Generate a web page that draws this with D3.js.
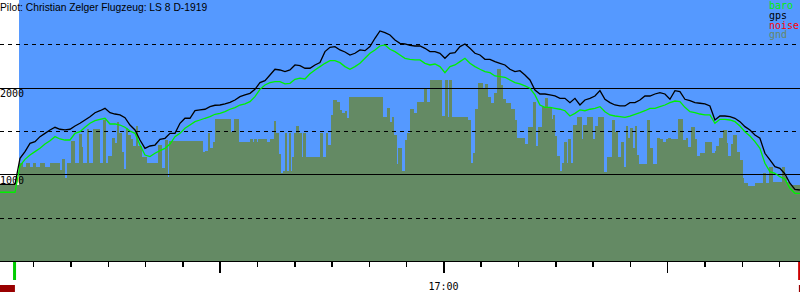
<!DOCTYPE html>
<html><head><meta charset="utf-8">
<script src="https://cdn.jsdelivr.net/npm/d3@7"></script>
<style>body{margin:0;background:#fff}svg{display:block}</style>
</head><body>
<svg id="c" width="800" height="300"></svg>
<script>
// ---------- data ----------
const title = "Pilot: Christian Zelger Flugzeug: LS 8 D-1919";
const legendNames = ["baro", "gps", "noise", "gnd"];
const legendColors = ["#00f000", "#000000", "#ff0000", "#668866"];
const gridSolid = [1000, 2000];
const gridDashed = [500, 1500, 2500];
const yLabelValues = [1000, 2000];
// time in minutes after 15:00
const timeDomain = [1.1, 215.6];
const minorTicks = [10,20,30,40,50,70,80,90,100,110,130,140,150,160,170,190,200,210];
const hourTicks = [60, 120, 180];
const labelTicks = [120];
const labelTexts = ["17:00"];
const skyStart = 6.2;
const takeoff = 5.0;
const landing = 215.5;
const noiseStart = [1.1, 215.3];
const noiseEnd = [5.1, 215.6];
// evenly sampled log (gps / baro altitude, m)
const logStart = 1.1;
const logStep = 1.3405;
const gps = [883,883,883,883,1185,1262,1358,1377,1435,1473,1512,1543,1520,1512,1520,1558,1589,1627,1665,1711,
 1734,1762,1711,1696,1685,1654,1569,1512,1396,1300,1327,1338,1404,1416,1473,1473,1589,1647,1647,1734,
 1743,1751,1781,1797,1800,1812,1831,1858,1896,1916,1935,1981,2058,2081,2146,2212,2204,2185,2204,2262,
 2254,2224,2224,2262,2289,2416,2466,2474,2435,2412,2377,2397,2435,2427,2474,2570,2654,2635,2608,2550,
 2512,2504,2489,2481,2481,2454,2416,2416,2397,2339,2397,2404,2474,2504,2454,2397,2377,2327,2327,2300,
 2281,2262,2212,2185,2196,2146,2089,1973,1927,1927,1916,1904,1877,1877,1827,1877,1800,1858,1877,1904,
 1966,1866,1827,1800,1789,1789,1827,1827,1858,1904,1904,1927,1943,1927,1866,1966,1954,1866,1850,1827,
 1820,1812,1789,1627,1673,1673,1665,1647,1608,1550,1512,1454,1416,1243,1166,1088,1070,1004,897,827,819];
const baro = [793,793,793,793,1100,1173,1223,1262,1300,1350,1388,1435,1408,1396,1396,1473,1492,1543,1589,1619,
 1635,1647,1581,1581,1569,1543,1500,1473,1338,1223,1204,1243,1273,1300,1350,1435,1473,1531,1569,1608,
 1627,1647,1665,1693,1704,1723,1751,1770,1800,1812,1839,1896,1981,2031,2058,2069,2069,2043,2050,2097,
 2110,2100,2160,2204,2243,2281,2312,2312,2289,2243,2212,2243,2281,2339,2397,2435,2481,2493,2443,2416,
 2377,2339,2327,2320,2320,2281,2262,2273,2243,2173,2243,2262,2300,2339,2281,2243,2212,2185,2173,2135,
 2127,2120,2089,2058,2043,2020,1993,1916,1800,1773,1773,1762,1751,1734,1673,1704,1743,1734,1751,1762,
 1781,1723,1685,1673,1665,1658,1673,1693,1711,1734,1762,1762,1781,1800,1827,1846,1839,1773,1723,1711,
 1696,1685,1685,1589,1635,1635,1627,1608,1558,1492,1442,1377,1300,1127,1031,1012,973,943,839,781,781];
// ground elevation under the track: [start minute, altitude m]
const gndTime = [1.1,6.2,7.3,8.1,9.1,10.0,10.8,11.8,13.2,14.5,17.2,17.6,18.5,19.0,20.1,21.2,22.3,23.0,23.4,24.3,
 25.0,26.1,27.9,28.8,29.5,30.1,31.0,31.9,32.5,33.1,33.7,34.3,34.9,35.5,36.1,36.8,37.6,38.2,39.1,40.0,
 40.4,43.5,44.5,45.3,46.2,46.5,55.6,56.1,56.9,57.4,58.1,58.7,63.0,63.8,65.2,68.1,68.9,69.3,69.9,70.4,
 72.8,73.5,74.6,75.1,75.9,76.4,77.1,77.5,78.1,78.6,79.0,79.5,79.9,80.5,81.3,82.0,82.4,83.1,86.9,87.6,
 88.5,89.1,89.8,90.3,91.5,92.3,92.7,93.6,94.2,94.7,103.9,104.9,105.7,106.3,106.8,107.5,107.9,108.8,109.7,110.1,
 111.0,112.1,112.8,114.8,115.5,116.4,119.5,120.4,121.1,121.6,122.2,126.7,127.3,127.8,128.4,129.3,130.7,131.1,132.0,132.7,
 133.5,134.4,135.3,136.0,136.8,138.1,139.2,139.8,141.9,142.7,143.9,144.8,145.4,146.3,147.2,148.1,149.0,149.4,149.9,150.5,
 151.2,151.7,152.3,153.0,153.5,154.1,154.8,155.7,157.1,157.5,158.4,160.0,160.6,161.5,163.0,163.9,165.1,166.0,166.9,167.5,
 168.4,168.9,169.5,170.0,170.7,171.3,171.8,172.5,174.5,175.4,176.1,177.3,178.0,178.9,179.8,180.3,180.9,183.0,184.3,185.0,
 185.6,186.3,187.4,188.0,188.8,190.1,191.9,192.8,193.2,193.9,194.9,195.9,196.4,197.1,197.7,198.6,199.5,200.2,200.6,201.7,
 203.5,205.7,206.4,207.4,208.3,210.7,211.6,212.0,212.9,215.6];
const gndAlt = [880,1135,1088,1135,1088,1135,1088,1135,1088,1127,1050,1174,958,1127,1388,1127,1466,1319,1127,1520,
 1127,1520,1127,1627,1127,1212,1416,1365,1607,1474,1261,1058,1531,1454,1404,1327,1558,1327,1204,1196,
 1127,1339,1070,1396,973,1388,1261,1273,1474,1300,1377,1639,1492,1639,1373,1408,1373,1408,1373,1408,
 1373,1408,1616,1474,1235,1019,1039,1474,1042,1474,1042,1204,1474,1558,1474,1204,1474,1204,1474,1204,
 1474,1339,1685,1858,1838,1743,1711,1734,1647,1889,1665,1762,1607,1665,1454,1119,1300,1042,1396,1481,
 1751,1711,1838,1981,1838,2089,1673,2089,1660,2089,1660,1627,1134,1250,1751,2058,1981,2043,1889,1820,
 1942,2212,2031,1866,1827,1751,1627,1416,1350,1550,1838,1327,1550,1774,1877,1774,1635,1685,1443,1212,
 1042,1134,1377,1134,1404,1134,1569,1665,1404,1569,1658,1404,1558,1658,1031,1204,1627,1492,1204,1377,
 1081,1558,1416,1531,1300,1558,1223,1119,1627,1300,1119,1416,1404,1377,1404,1416,1404,1635,1396,1416,
 1312,1543,1404,1212,1243,1377,1243,1273,1327,1416,1512,1365,1212,1350,1454,1261,1166,954,897,869,
 904,1019,904,1088,915,1088,973,915,877,877];

// ---------- drawing ----------
const W = 800, H = 300;
const svg = d3.select("#c");
const x = d3.scaleLinear().domain(timeDomain).range([0, W]);
const y = d3.scaleLinear().domain([0, 3000]).range([261, 1]);
const px = v => Math.round(y(v)) + 0.5;

// sky
svg.append("rect").attr("x", x(skyStart)).attr("y", 0)
  .attr("width", W - x(skyStart)).attr("height", y(0)).attr("fill", "#5599ff");

// ground
const gnd = gndTime.map((t, i) => [t, gndAlt[i]]);
svg.append("path").datum(gnd)
  .attr("d", d3.area().curve(d3.curveStepAfter).x(d => x(d[0])).y0(y(0)).y1(d => y(d[1])))
  .attr("fill", "#648a64").attr("shape-rendering", "crispEdges");

// grid
svg.selectAll(".gs").data(gridSolid).join("line")
  .attr("x1", 0).attr("x2", W).attr("y1", px).attr("y2", px)
  .attr("stroke", "#000").attr("stroke-width", 1).attr("shape-rendering", "crispEdges");
svg.selectAll(".gd").data(gridDashed).join("line")
  .attr("x1", 0).attr("x2", W).attr("y1", px).attr("y2", px)
  .attr("stroke", "#000").attr("stroke-width", 1).attr("stroke-dasharray", "4,4")
  .attr("shape-rendering", "crispEdges");

// y labels
svg.selectAll(".yl").data(yLabelValues).join("text")
  .attr("x", 0).attr("y", d => y(d) + 9.5)
  .attr("font-family", "DejaVu Sans Mono").attr("font-size", 10).attr("fill", "#000")
  .text(d => d);

// series lines
const series = (arr) => arr.map((v, i) => [logStart + i * logStep, v]);
const line = d3.line().x(d => x(d[0])).y(d => y(d[1]));
svg.append("path").datum(series(baro)).attr("d", line)
  .attr("fill", "none").attr("stroke", legendColors[0]).attr("stroke-width", 1.3)
  .attr("stroke-linejoin", "miter");
svg.append("path").datum(series(gps)).attr("d", line)
  .attr("fill", "none").attr("stroke", legendColors[1]).attr("stroke-width", 1.3)
  .attr("stroke-linejoin", "miter");

// x axis
svg.append("line").attr("x1", 0).attr("x2", W).attr("y1", 261.5).attr("y2", 261.5)
  .attr("stroke", "#000").attr("shape-rendering", "crispEdges");
const ax1 = d3.axisBottom(x).tickValues(minorTicks).tickSize(6).tickFormat("");
const g1 = svg.append("g").attr("transform", "translate(0,261)").call(ax1);
const ax2 = d3.axisBottom(x).tickValues(hourTicks).tickSize(12).tickFormat("");
const g2 = svg.append("g").attr("transform", "translate(0,261)").call(ax2);
[g1, g2].forEach(g => {
  g.select(".domain").remove();
  g.selectAll("line").attr("stroke", "#000").attr("stroke-width", 1.5).attr("shape-rendering", "crispEdges");
});
svg.selectAll(".xl").data(labelTicks).join("text")
  .attr("x", d => x(d)).attr("y", 289.5).attr("text-anchor", "middle")
  .attr("font-family", "DejaVu Sans Mono").attr("font-size", 10).attr("fill", "#000")
  .text((d, i) => labelTexts[i]);

// takeoff / landing markers
svg.append("rect").attr("x", x(takeoff) - 1.5).attr("y", 262).attr("width", 3).attr("height", 18).attr("fill", "#00cc00");
svg.append("rect").attr("x", x(landing) - 1.5).attr("y", 262).attr("width", 3).attr("height", 18).attr("fill", "#cc0000");
// noise
svg.selectAll(".nz").data(noiseStart).join("rect")
  .attr("x", d => x(d)).attr("y", 285).attr("height", 7)
  .attr("width", (d, i) => x(noiseEnd[i]) - x(d)).attr("fill", "#990000");

// title
svg.append("text").attr("x", 0).attr("y", 11)
  .attr("font-family", "Liberation Sans, Arial, sans-serif").attr("font-size", 10.3).attr("fill", "#000")
  .text(title);

// legend
svg.selectAll(".lg").data(legendNames).join("text")
  .attr("x", 769).attr("y", (d, i) => 9 + i * 9.8)
  .attr("font-family", "DejaVu Sans Mono").attr("font-size", 10)
  .attr("fill", (d, i) => legendColors[i]).text(d => d);
</script>
</body></html>
